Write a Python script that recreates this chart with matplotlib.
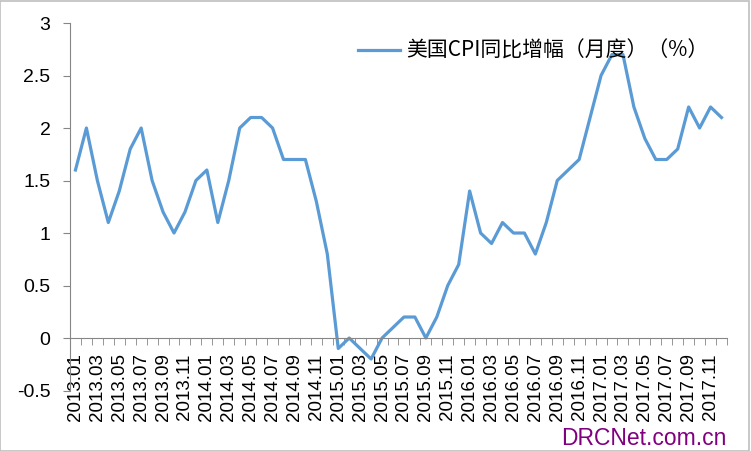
import matplotlib
matplotlib.use("Agg")
import matplotlib.pyplot as plt
from matplotlib.patches import Rectangle

plt.rcParams['font.family'] = ['Liberation Sans', 'Noto Sans CJK SC', 'DejaVu Sans']

# monthly labels 2013.01 .. 2017.12
months = [f"{y}.{m:02d}" for y in range(2013, 2018) for m in range(1, 13)]

cpi_2013 = [1.6, 2.0, 1.5, 1.1, 1.4, 1.8, 2.0, 1.5, 1.2, 1.0, 1.2, 1.5]
cpi_2014 = [1.6, 1.1, 1.5, 2.0, 2.1, 2.1, 2.0, 1.7, 1.7, 1.7, 1.3, 0.8]
cpi_2015 = [-0.1, 0.0, -0.1, -0.2, 0.0, 0.1, 0.2, 0.2, 0.0, 0.2, 0.5, 0.7]
cpi_2016 = [1.4, 1.0, 0.9, 1.1, 1.0, 1.0, 0.8, 1.1, 1.5, 1.6, 1.7, 2.1]
cpi_2017 = [2.5, 2.7, 2.7, 2.2, 1.9, 1.7, 1.7, 1.8, 2.2, 2.0, 2.2, 2.1]
cpi = cpi_2013 + cpi_2014 + cpi_2015 + cpi_2016 + cpi_2017

yticks = [-0.5, 0, 0.5, 1, 1.5, 2, 2.5, 3]
ytick_labels = ["-0.5", "0", "0.5", "1", "1.5", "2", "2.5", "3"]

fig = plt.figure(figsize=(7.51, 4.51), dpi=100)
ax = fig.add_axes([0.0932, 0.1341, 0.8748, 0.8149])

x = list(range(len(cpi)))
ax.plot(x, cpi, color='#5B9BD5', linewidth=2.3, label='美国CPI同比增幅（月度）（%）')

ax.set_xlim(-0.5, len(cpi) - 0.5)
ax.set_ylim(-0.5, 3)

axis_grey = '#868686'
for s in ['top', 'right']:
    ax.spines[s].set_visible(False)
ax.spines['bottom'].set_position(('data', 0))
ax.spines['bottom'].set_color(axis_grey)
ax.spines['left'].set_color(axis_grey)

ax.set_yticks(yticks)
ax.set_yticklabels(ytick_labels, fontsize=14)
ax.tick_params(axis='y', direction='out', length=5, color=axis_grey, pad=9)

ax.set_xticks(x[::2])
ax.set_xticklabels(months[::2], rotation=90, fontsize=13.5)
ax.set_xticks([i - 0.5 for i in range(len(cpi) + 1)], minor=True)
ax.tick_params(axis='x', which='major', length=0, pad=11)
ax.tick_params(axis='x', which='minor', direction='out', length=5, color=axis_grey)

ax.legend(loc='upper left', bbox_to_anchor=(0.41, 1.005), frameon=False,
          handlelength=2.0, handletextpad=0.3,
          prop={'family': ['Noto Sans CJK SC', 'DejaVu Sans'], 'size': 15})

fig.text(0.968, 0.002, 'DRCNet.com.cn', color='#800080', fontsize=16.5,
         ha='right', va='bottom')

fig.patches.append(Rectangle((0.0005, 0.001), 0.997, 0.997, transform=fig.transFigure,
                             fill=False, edgecolor='#BFBFBF', linewidth=1.2))

fig.savefig('out.png', dpi=100)
